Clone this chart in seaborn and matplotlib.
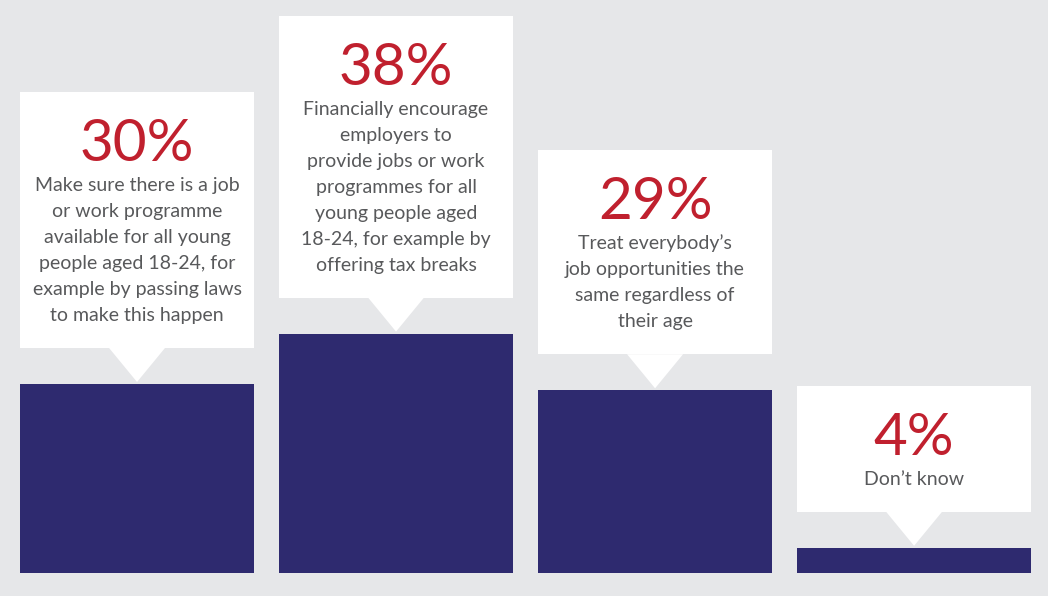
import matplotlib
matplotlib.use("Agg")
import matplotlib.pyplot as plt
from matplotlib.patches import Rectangle, Polygon
import seaborn as sns

# Survey answers (share of respondents, %)
answers = ["job_programme", "tax_breaks", "same_regardless", "dont_know"]
values = [30, 38, 29, 4]
pct_labels = ["30%", "38%", "29%", "4%"]
descriptions = [
    ["Make sure there is a job", "or work programme", "available for all young",
     "people aged 18-24, for", "example by passing laws", "to make this happen"],
    ["Financially encourage", "employers to", "provide jobs or work",
     "programmes for all", "young people aged", "18-24, for example by",
     "offering tax breaks"],
    ["Treat everybody\u2019s", "job opportunities the", "same regardless of", "their age"],
    ["Don\u2019t know"],
]

bg = "#e6e7e9"
navy = "#2e2a6f"
red = "#c0202e"
grey = "#58595b"

sns.set_theme(style="white")
plt.rcParams["font.family"] = ["Lato", "DejaVu Sans"]

W, H, DPI = 1048, 596, 100
fig = plt.figure(figsize=(W / DPI, H / DPI), dpi=DPI, facecolor=bg)
ax = fig.add_axes([0, 0, 1, 1])
ax.set_facecolor(bg)

bar_w = 0.903
sns.barplot(x=answers, y=values, color=navy, saturation=1, width=bar_w,
            linewidth=0, ax=ax)

# axis limits chosen so that 1% ~ 6.3 px and one category ~ 259 px
ymin, ymax = -3.65, 90.95
xmin, xmax = -0.529, 3.517
ax.set_ylim(ymin, ymax)
ax.set_xlim(xmin, xmax)
py = H / (ymax - ymin)   # pixels per % unit
px = W / (xmax - xmin)   # pixels per category unit

for i, (v, pl, lines) in enumerate(zip(values, pct_labels, descriptions)):
    n = len(lines)
    box_bottom = v + 36 / py
    box_h = (100 + 26 * n) / py
    box_top = box_bottom + box_h
    ax.add_patch(Rectangle((i - bar_w / 2, box_bottom), bar_w, box_h,
                           facecolor="white", edgecolor="none", zorder=3))
    hw = 28 / px
    ax.add_patch(Polygon([(i - hw, box_bottom + 0.01), (i + hw, box_bottom + 0.01),
                          (i, v + 2 / py)], closed=True,
                         facecolor="white", edgecolor="none", zorder=3))
    ax.text(i, box_top - 69 / py, pl, color=red, fontsize=42,
            ha="center", va="baseline", zorder=4)
    for k, line in enumerate(lines):
        ax.text(i, box_top - (99 + 26 * k) / py, line, color=grey, fontsize=14,
                ha="center", va="baseline", zorder=4)

ax.set_axis_off()
fig.savefig("out.png", dpi=DPI, facecolor=bg)
